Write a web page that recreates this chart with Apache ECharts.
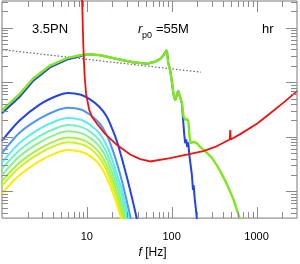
<!DOCTYPE html>
<html><head><meta charset="utf-8">
<script src="https://cdn.jsdelivr.net/npm/echarts@6/dist/echarts.min.js"></script>
<style>html,body{margin:0;padding:0;background:#fff}#c{width:300px;height:264px}</style>
</head><body><div id="c"></div>
<script>
// ---- data (frequency in Hz, strain amplitude) ----
const lowerFreq = [1,1.6,2.8,4.4,6,8.5,11,14,17,20,23,26,30,34,38,42];
const hBlue     = [8.49e-22,1.97e-21,3.93e-21,5.60e-21,6.36e-21,5.90e-21,4.79e-21,3.56e-21,2.40e-21,1.38e-21,7.63e-22,3.90e-22,1.70e-22,7.73e-23,3.65e-23,1.79e-23];
const hLightBlue= [5.04e-22,1.18e-21,2.17e-21,3.04e-21,3.42e-21,3.16e-21,2.51e-21,1.79e-21,1.12e-21,5.93e-22,3.03e-22,1.51e-22,6.03e-23,2.57e-23];
const hCyan     = [3.40e-22,7.63e-22,1.41e-21,1.97e-21,2.22e-21,2.06e-21,1.65e-21,1.17e-21,7.08e-22,3.75e-22,1.92e-22,1.02e-22,4.10e-23,1.87e-23];
const hAqua     = [2.60e-22,5.63e-22,1.04e-21,1.45e-21,1.64e-21,1.52e-21,1.23e-21,8.73e-22,5.25e-22,2.80e-22,1.44e-22,7.67e-23,3.16e-23,1.48e-23];
const hLightGrn = [1.99e-22,4.34e-22,8.00e-22,1.12e-21,1.26e-21,1.17e-21,9.48e-22,6.73e-22,4.06e-22,2.13e-22,1.13e-22,5.82e-23,2.51e-23];
const hGreen    = [1.54e-22,3.33e-22,6.14e-22,8.59e-22,9.67e-22,9.01e-22,7.37e-22,5.16e-22,3.10e-22,1.66e-22,8.67e-23,4.49e-23,2.02e-23];
const hYelGrn   = [1.27e-22,2.74e-22,5.04e-22,7.05e-22,7.94e-22,7.37e-22,6.05e-22,4.19e-22,2.47e-22,1.30e-22,6.87e-23,3.57e-23,1.66e-23];
const hYellow   = [9.18e-23,1.97e-22,3.63e-22,5.08e-22,5.72e-22,5.33e-22,4.43e-22,3.13e-22,1.84e-22,9.96e-23,5.29e-23,2.89e-23];

const hrFreq = [1,1.243,1.631,2.32,3.68,5.85,8.32,10.34,14.33,22.74,35.1,51.4,63.9,73.1,79.3,87.7,90.9,95.96,100.5,104.9,109.9,119.3,125.9,131.9,137.7,144.2,152.3,157.8,163,167.5,180.7,198.2,216.8,260.1,297.9,341.2,383.6,447.7,489.8,535.8,576.7,630.5,660.2];
const hrH    = [3.04e-21,4.17e-21,6.18e-21,1.16e-20,2.02e-20,2.77e-20,3.12e-20,3.25e-20,3.12e-20,2.67e-20,2.32e-20,2.19e-20,2.37e-20,2.67e-20,3.06e-20,3.88e-20,2.30e-20,1.66e-20,1.03e-20,6.18e-21,4.69e-21,6.96e-21,7.54e-21,4.17e-21,2.40e-21,2.05e-21,2.13e-21,1.82e-21,9.67e-22,7.63e-22,8.09e-22,7.63e-22,6.52e-22,5.08e-22,4.11e-22,2.99e-22,2.16e-22,1.36e-22,9.80e-23,7.06e-23,5.01e-23,3.24e-23,2.46e-23];

const pnFreq = [1,1.243,1.631,2.32,3.68,5.85,8.32,10.34,14.33,22.74,35.1,51.4,63.9,73.1,79.3,87.7,90.9,95.96,100.5,104.9,109.9,119.3,125.9,131.9,137.7,141.1,144.2,148.2,152.3,156.5,162.1,173.0,178.3,181.7,186.7,198.2,205.3];
const pnH    = [2.70e-21,3.70e-21,5.49e-21,1.05e-20,1.87e-20,2.61e-20,3.00e-20,3.25e-20,3.12e-20,2.67e-20,2.32e-20,2.19e-20,2.37e-20,2.67e-20,3.06e-20,3.88e-20,2.30e-20,1.66e-20,1.03e-20,6.18e-21,4.69e-21,6.96e-21,7.54e-21,4.17e-21,1.68e-21,1.05e-21,7.63e-22,8.94e-22,6.52e-22,7.94e-22,4.45e-22,2.02e-22,1.06e-22,1.29e-22,7.43e-23,3.24e-23,2.02e-23];

const noiseFreq = [8.44,8.79,9.10,9.40,9.79,10.63,11.53,13.10,16.41,22.74,32.4,42.5,55.7,95.96,160.8,235.2,325.8,483,489.8,496.5,642.7,1020,1452,2182,3023];
const noiseH    = [7.06e-19,3.20e-19,4.45e-20,1.36e-20,6.18e-21,3.16e-21,2.31e-21,1.75e-21,1.13e-21,7.05e-22,4.75e-22,3.90e-22,3.53e-22,4.06e-22,4.81e-22,5.46e-22,6.52e-22,8.94e-22,1.33e-21,8.94e-22,1.12e-21,1.75e-21,2.70e-21,4.51e-21,6.96e-21];

const refFreq = [1,220.9];
const refH    = [3.95e-20,1.53e-20];

const xLabels = [10,100,1000];
const xMin = 1, xMax = 3000;
const yMin = 3.24e-23, yMax = 3.08e-19;

// ---- build ----
function pairs(xs, ys){ const n=Math.min(xs.length, ys.length); const out=[]; for(let i=0;i<n;i++) out.push([xs[i], ys[i]]); return out; }
function line(data, color, width, extra){
  return Object.assign({type:'line', data, symbol:'none', showSymbol:false, silent:true,
    lineStyle:{color, width}, clip:true, z:2}, extra||{});
}
const lowerSets = [
  [hYellow,'#ffea00'],[hYelGrn,'#cdf21c'],[hGreen,'#a6f04a'],[hLightGrn,'#88f08c'],
  [hAqua,'#72f2bf'],[hCyan,'#5cebf2'],[hLightBlue,'#4c96fb'],[hBlue,'#2443e6']
];
const series = lowerSets.map(([h,c]) => line(pairs(lowerFreq,h), c, 2, {smooth:0.3}));
series.push(line(pairs(refFreq, refH), '#666', 1.2, {lineStyle:{color:'#666', width:1.2, type:[1.5,2]}}));
series.push(line(pairs(pnFreq, pnH), '#2443e6', 2));
series.push(line(pairs(hrFreq, hrH), '#7ee81a', 2.4));
series.push(line(pairs(noiseFreq, noiseH), '#f01212', 1.8));

// tick marks on all four sides via the axes' scales
function tickList(lo, hi){
  const out=[];
  for(let e=Math.floor(Math.log10(lo))-1; e<=Math.ceil(Math.log10(hi)); e++){
    for(let m=1;m<=9;m++){ const v=m*Math.pow(10,e); if(v>lo && v<hi) out.push([v, m===1]); }
  }
  return out;
}
const xTicks = tickList(xMin, xMax);
const yTicks = tickList(yMin, yMax);
series.push({
  type:'custom', silent:true, z:5, clip:false,
  data:[[10, 1e-21]],
  renderItem:function(params, api){
    const cs = params.coordSys;
    const x0=cs.x, x1=cs.x+cs.width, y0=cs.y, y1=cs.y+cs.height;
    const st={stroke:'#8a8a8a', lineWidth:1};
    const ch=[];
    xTicks.forEach(([v,maj])=>{
      const px=Math.round(api.coord([v, 1e-21])[0])+0.5;
      if(px<=x0+1||px>=x1-1) return;
      const L=maj?11:6;
      ch.push({type:'line',shape:{x1:px,y1:y1,x2:px,y2:y1-L},style:st});
      ch.push({type:'line',shape:{x1:px,y1:y0,x2:px,y2:y0+L},style:st});
    });
    yTicks.forEach(([v,maj])=>{
      const py=Math.round(api.coord([10, v])[1])+0.5;
      if(py<=y0+1||py>=y1-1) return;
      const L=maj?11:6;
      ch.push({type:'line',shape:{x1:x0,y1:py,x2:x0+L,y2:py},style:st});
      ch.push({type:'line',shape:{x1:x1,y1:py,x2:x1-L,y2:py},style:st});
    });
    return {type:'group', children:ch};
  }
});

const chart = echarts.init(document.getElementById('c'), null, {renderer:'canvas'});
const FF = '"Liberation Sans", Arial, Helvetica, sans-serif';
chart.setOption({
  animation:false,
  backgroundColor:'#fff',
  grid:{left:2, right:3, top:1, bottom:31, show:true, borderColor:'#7a7a7a', borderWidth:1, containLabel:false},
  xAxis:{type:'log', logBase:10, min:xMin, max:xMax,
    axisLine:{show:false}, axisTick:{show:false}, splitLine:{show:false}, minorTick:{show:false},
    axisLabel:{color:'#000', fontSize:11, fontFamily:FF, margin:13, showMinLabel:false, showMaxLabel:false,
      formatter:function(v){ const r=Math.round(v); return xLabels.indexOf(r)>=0 ? String(r) : ''; }},
    name:'{i|f} [Hz]', nameLocation:'middle', nameGap:26,
    nameTextStyle:{color:'#000', fontSize:12, fontFamily:FF, padding:[0,0,0,6],
      rich:{i:{fontStyle:'italic', fontSize:12, fontFamily:FF, color:'#000'}}}
  },
  yAxis:{type:'log', logBase:10, min:yMin, max:yMax,
    axisLine:{show:false}, axisTick:{show:false}, splitLine:{show:false}, axisLabel:{show:false}},
  graphic:[
    {type:'text', left:32, top:23, style:{text:'3.5PN', font:'13px '+FF, fill:'#000'}},
    {type:'text', left:138, top:23, style:{text:'r', font:'italic 13px '+FF, fill:'#000'}},
    {type:'text', left:142, top:31, style:{text:'p0', font:'9px '+FF, fill:'#000'}},
    {type:'text', left:156, top:23, style:{text:'=55M', font:'13px '+FF, fill:'#000'}},
    {type:'text', left:262, top:23, style:{text:'hr', font:'13px '+FF, fill:'#000'}}
  ],
  series
});
</script></body></html>
